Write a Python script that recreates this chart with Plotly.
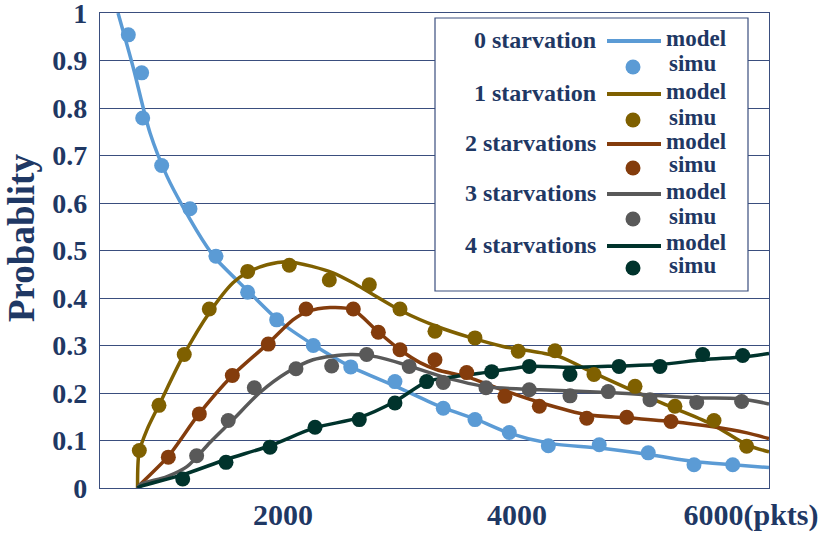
import plotly.graph_objects as go

# ---------------- data ----------------
series_names = ["0 starvation", "1 starvation", "2 starvations", "3 starvations", "4 starvations"]
series_colors = ["#5B9BD5", "#7F6000", "#843C0C", "#595959", "#00332C"]

# model curves
model0_x = [590, 718, 863, 1009, 1145, 1350, 1436, 1692, 1974, 2256, 2573, 2974, 3368, 3658, 3940, 4282, 4709, 5137, 5504, 5846, 6154]
model0_y = [1.0, 0.887, 0.748, 0.656, 0.592, 0.508, 0.480, 0.417, 0.350, 0.302, 0.256, 0.213, 0.169, 0.144, 0.115, 0.094, 0.084, 0.070, 0.056, 0.049, 0.043]

model1_x = [757, 770, 838, 949, 1145, 1376, 1573, 1692, 1863, 2060, 2256, 2427, 2598, 2744, 3026, 3316, 3598, 3880, 4197, 4368, 4650, 5009, 5333, 5675, 5966, 6154]
model1_y = [0.0, 0.075, 0.123, 0.179, 0.277, 0.371, 0.432, 0.453, 0.470, 0.476, 0.466, 0.453, 0.432, 0.411, 0.371, 0.340, 0.317, 0.298, 0.285, 0.276, 0.243, 0.203, 0.169, 0.133, 0.091, 0.076]

model2_x = [757, 778, 1017, 1282, 1564, 1872, 2085, 2205, 2402, 2598, 2812, 3000, 3171, 3316, 3573, 3880, 4197, 4598, 4940, 5316, 5675, 5966, 6154]
model2_y = [0.0, 0.007, 0.066, 0.156, 0.236, 0.304, 0.354, 0.371, 0.380, 0.375, 0.329, 0.291, 0.264, 0.249, 0.234, 0.206, 0.180, 0.154, 0.148, 0.140, 0.129, 0.116, 0.104]

model3_x = [757, 778, 1009, 1179, 1376, 1573, 1803, 2034, 2256, 2573, 2803, 3077, 3368, 3744, 4197, 4769, 5137, 5538, 5906, 6154]
model3_y = [0.0, 0.007, 0.024, 0.045, 0.096, 0.144, 0.201, 0.243, 0.270, 0.281, 0.276, 0.257, 0.234, 0.213, 0.207, 0.201, 0.196, 0.190, 0.188, 0.177]

model4_x = [757, 778, 1145, 1513, 1889, 2274, 2650, 2957, 3231, 3453, 3786, 4103, 4453, 4872, 5222, 5590, 5932, 6154]
model4_y = [0.0, 0.003, 0.028, 0.060, 0.089, 0.127, 0.148, 0.182, 0.224, 0.234, 0.245, 0.256, 0.254, 0.257, 0.260, 0.270, 0.276, 0.283]

# simulation points
simu0_x = [678, 792, 801, 963, 1205, 1427, 1698, 1946, 2259, 2579, 2957, 3370, 3641, 3934, 4268, 4703, 5122, 5513, 5844]
simu0_y = [0.954, 0.874, 0.779, 0.679, 0.588, 0.488, 0.412, 0.354, 0.300, 0.255, 0.224, 0.168, 0.144, 0.117, 0.089, 0.091, 0.074, 0.049, 0.049]

simu1_x = [772, 940, 1156, 1370, 1698, 2054, 2396, 2738, 3000, 3299, 3641, 4011, 4325, 4658, 5009, 5350, 5684, 5963]
simu1_y = [0.079, 0.174, 0.281, 0.377, 0.456, 0.469, 0.438, 0.428, 0.377, 0.330, 0.316, 0.288, 0.289, 0.239, 0.214, 0.172, 0.142, 0.088]

simu2_x = [1020, 1285, 1567, 1874, 2197, 2601, 2815, 3000, 3299, 3570, 3897, 4191, 4596, 4938, 5316]
simu2_y = [0.065, 0.156, 0.237, 0.303, 0.377, 0.377, 0.328, 0.291, 0.270, 0.243, 0.193, 0.172, 0.147, 0.149, 0.140]

simu3_x = [1262, 1532, 1755, 2111, 2416, 2715, 3079, 3370, 3735, 4105, 4453, 4780, 5137, 5536, 5920]
simu3_y = [0.068, 0.142, 0.211, 0.251, 0.257, 0.281, 0.256, 0.222, 0.211, 0.207, 0.194, 0.203, 0.186, 0.180, 0.182]

simu4_x = [1143, 1513, 1889, 2274, 2652, 2957, 3228, 3784, 4105, 4453, 4872, 5222, 5587, 5929]
simu4_y = [0.019, 0.054, 0.086, 0.128, 0.144, 0.179, 0.224, 0.245, 0.256, 0.239, 0.256, 0.256, 0.281, 0.279]

x_tick_vals = [2000, 4000, 6000]
x_tick_text = ["2000", "4000", "6000(pkts)"]
y_tick_vals = [0, 0.1, 0.2, 0.3, 0.4, 0.5, 0.6, 0.7, 0.8, 0.9, 1.0]
y_tick_text = ["0", "0.1", "0.2", "0.3", "0.4", "0.5", "0.6", "0.7", "0.8", "0.9", "1"]
y_title = "Probablity"
model_label = "model"
simu_label = "simu"

# ---------------- figure ----------------
W, H = 826, 534
ML, MR, MT, MB = 100, 57, 13, 46
PW, PH = W - ML - MR, H - MT - MB
NAVY = "#1F3864"
GRID = "#3A4E7E"
FONT = "Liberation Serif"
LEG_SIZE = 23

models = [(model0_x, model0_y), (model1_x, model1_y), (model2_x, model2_y), (model3_x, model3_y), (model4_x, model4_y)]
simus = [(simu0_x, simu0_y), (simu1_x, simu1_y), (simu2_x, simu2_y), (simu3_x, simu3_y), (simu4_x, simu4_y)]

fig = go.Figure()
for (mx, my), name, col in zip(models, series_names, series_colors):
    fig.add_trace(go.Scatter(x=mx, y=my, mode="lines", name=name + " " + model_label,
                             line=dict(color=col, width=3.5, shape="spline", smoothing=0.8),
                             showlegend=False, cliponaxis=True))
for (sx, sy), name, col in zip(simus, series_names, series_colors):
    fig.add_trace(go.Scatter(x=sx, y=sy, mode="markers", name=name + " " + simu_label,
                             marker=dict(color=col, size=15, line=dict(width=0)),
                             showlegend=False, cliponaxis=True))


def px_x(p):
    return (p - ML) / PW


def px_y(p):
    return (H - MB - p) / PH


shapes = []
annotations = []

# legend box
shapes.append(dict(type="rect", xref="paper", yref="paper",
                   x0=px_x(435), x1=px_x(748), y0=px_y(291), y1=px_y(18),
                   fillcolor="white", line=dict(color=GRID, width=1.2), layer="above"))

model_rows = [40, 93, 143, 193, 245]
simu_rows = [67, 120, 168, 219, 268]
for name, col, my_, sy_ in zip(series_names, series_colors, model_rows, simu_rows):
    annotations.append(dict(text="<b>%s</b>" % name, xref="paper", yref="paper",
                            x=px_x(598), y=px_y(my_), xanchor="right", yanchor="middle",
                            showarrow=False, font=dict(family=FONT, size=LEG_SIZE + 1, color=NAVY)))
    shapes.append(dict(type="line", xref="paper", yref="paper",
                       x0=px_x(607), x1=px_x(661), y0=px_y(my_ + 1), y1=px_y(my_ + 1),
                       line=dict(color=col, width=4), layer="above"))
    annotations.append(dict(text="<b>%s</b>" % model_label, xref="paper", yref="paper",
                            x=px_x(664), y=px_y(my_ - 2), xanchor="left", yanchor="middle",
                            showarrow=False, font=dict(family=FONT, size=LEG_SIZE, color=NAVY)))
    shapes.append(dict(type="circle", xref="paper", yref="paper",
                       xsizemode="pixel", ysizemode="pixel",
                       xanchor=px_x(633), yanchor=px_y(sy_),
                       x0=-7.5, x1=7.5, y0=-7.5, y1=7.5,
                       fillcolor=col, line=dict(width=0), layer="above"))
    annotations.append(dict(text="<b>%s</b>" % simu_label, xref="paper", yref="paper",
                            x=px_x(667), y=px_y(sy_ - 3), xanchor="left", yanchor="middle",
                            showarrow=False, font=dict(family=FONT, size=LEG_SIZE, color=NAVY)))

# y axis title
annotations.append(dict(text="<b>%s</b>" % y_title, xref="paper", yref="paper",
                        x=px_x(21), y=px_y(238), xanchor="center", yanchor="middle",
                        textangle=-90, showarrow=False,
                        font=dict(family=FONT, size=37, color=NAVY)))

fig.update_layout(
    width=W, height=H,
    margin=dict(l=ML, r=MR, t=MT, b=MB, pad=0),
    paper_bgcolor="white", plot_bgcolor="white",
    showlegend=False,
    shapes=shapes, annotations=annotations,
    xaxis=dict(range=[436, 6154], tickvals=x_tick_vals, ticktext=x_tick_text,
               showgrid=False, zeroline=False, showline=True, mirror=True,
               linecolor=GRID, linewidth=1.2, ticks="", automargin=False,
               tickfont=dict(family=FONT, size=30, color=NAVY, weight="bold"),
               ticklabelstandoff=0, ticklabeloverflow="allow"),
    yaxis=dict(range=[0, 1], tickvals=y_tick_vals, ticktext=y_tick_text,
               showgrid=True, gridcolor=GRID, gridwidth=1.2, zeroline=False,
               showline=True, mirror=True, linecolor=GRID, linewidth=1.2,
               ticks="", automargin=False,
               tickfont=dict(family=FONT, size=28, color=NAVY, weight="bold"),
               ticklabelstandoff=6, ticklabeloverflow="allow"),
)

fig.write_html("out.html", config={"displayModeBar": False},
               post_script="document.body.style.margin='0';document.body.style.padding='0';")
